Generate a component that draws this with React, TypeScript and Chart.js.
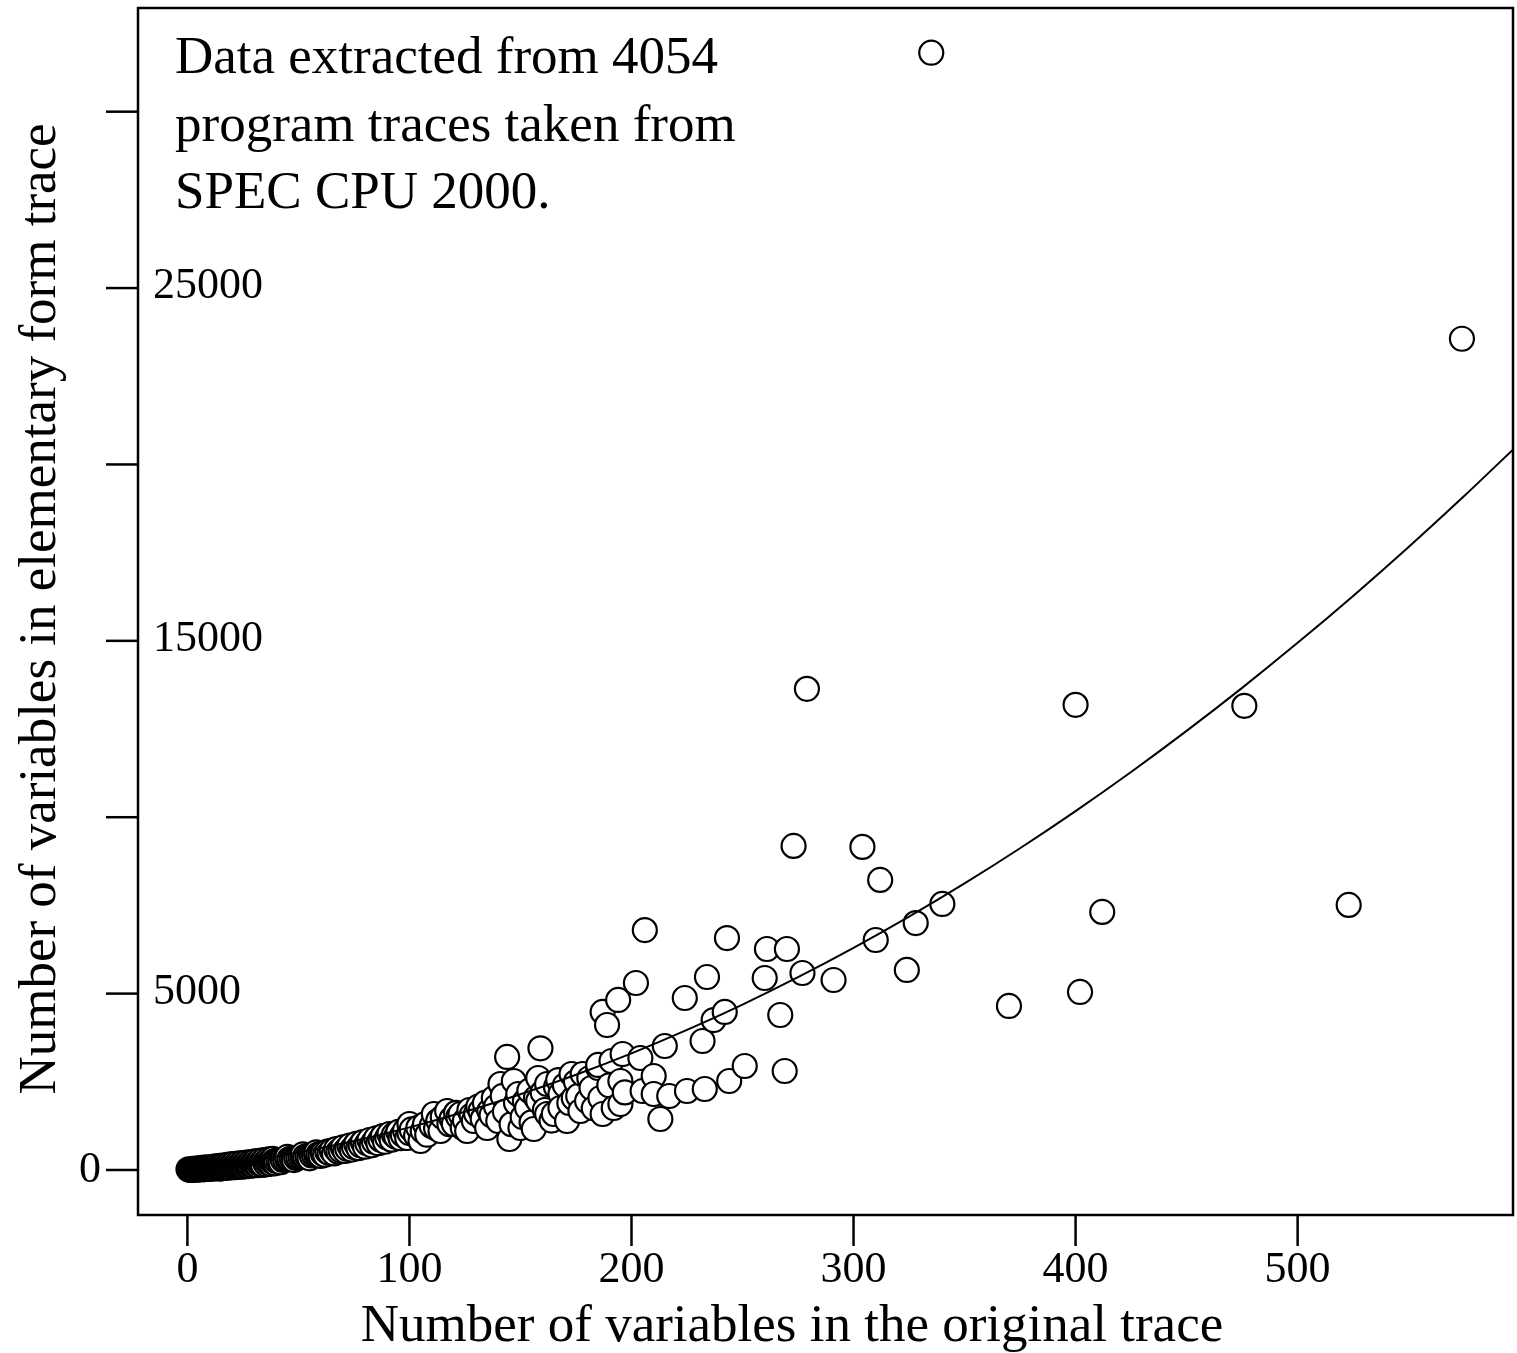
import React, { useEffect, useRef } from 'react';
import { Chart, registerables } from 'chart.js';

Chart.register(...registerables);

// ---- Data ----
const scatterX = [
  1, 2, 3, 4, 5, 6, 7, 8, 9, 10, 11, 12, 13, 14, 15, 16, 17, 18, 19, 20,
  21, 22, 23, 24, 25, 26, 27, 28, 29, 30, 31, 32, 33, 34, 35, 36, 37, 38, 39, 40,
  41, 42, 43, 44, 45, 46, 47, 48, 49, 50, 51, 52, 53, 54, 55, 56, 57, 58, 59, 60,
  0.5, 1.5, 2.5, 3.5, 4.5, 5.5, 6.5, 7.5, 8.5, 9.5, 10.5, 11.5, 12.5, 13.5, 14.5, 15.5, 16.5, 17.5, 18.5, 19.5,
  20.5, 21.5, 22.5, 23.5, 24.5, 25.5, 26.5, 27.5, 28.5, 29.5, 30.5, 31.5, 32.5, 33.5, 34.5, 35.5, 36.5, 37.5, 38.5, 39.5,
  8, 15, 20, 25, 30, 34, 38, 42, 45, 48, 52, 55, 58, 60,
  61, 62, 63, 64, 65, 66, 67, 68, 69, 70, 71, 72, 73, 74, 75, 76, 77, 78, 79, 80,
  81, 82, 83, 84, 85, 86, 87, 88, 89, 90, 91, 92, 93, 94, 95, 96, 97, 98, 99, 100,
  100, 101, 103, 104, 105, 106, 107, 108, 110, 111, 112, 113, 114, 115, 117, 118, 119, 120,
  121, 122, 123, 124, 125, 126, 127, 128, 129, 130, 131, 132, 133, 134, 135, 136, 137, 138,
  139, 140, 141, 142, 143, 144, 145, 146, 147, 148, 149, 150, 151, 152, 153, 154, 155, 156,
  157, 158, 158, 159, 160, 161, 162, 162, 164, 165, 166, 167, 168, 168, 170, 171, 172, 173,
  174, 175, 176, 177, 178, 180, 181, 182, 183, 185, 185, 186, 187, 187, 189, 190, 191, 192,
  194, 195, 195, 196, 197, 202, 204, 205, 206, 210, 210, 213, 215, 217, 224, 225, 232, 233,
  234, 237, 242, 243, 244, 251, 260, 261, 267, 269, 270, 273, 277, 279, 291, 304, 310, 312,
  324, 328, 335, 340, 370, 400, 402, 412, 476, 523, 574
];

const scatterY = [
  4, 8, 13, 17, 22, 26, 31, 36, 41, 46, 51, 57, 62, 68, 74, 79, 85, 91, 98, 104,
  110, 117, 124, 131, 138, 145, 152, 159, 166, 174, 182, 189, 197, 205, 214, 222, 230, 239, 247, 256,
  265, 274, 283, 292, 302, 311, 321, 330, 340, 350, 360, 370, 381, 391, 402, 412, 423, 434, 445, 456,
  20, 0, 35, 5, 45, 12, 60, 20, 70, 28, 85, 35, 100, 42, 115, 50, 130, 60, 150, 70,
  165, 80, 180, 90, 195, 100, 210, 110, 225, 125, 245, 135, 260, 150, 280, 160, 300, 175, 315, 190,
  70, 40, 150, 100, 230, 150, 300, 220, 370, 280, 440, 330, 500, 400,
  470, 430, 520, 480, 550, 470, 590, 520, 560, 640, 540, 600, 690, 580, 650, 740, 620, 700, 790, 660,
  760, 850, 700, 800, 900, 760, 860, 960, 800, 920, 1020, 860, 1000, 940, 1080, 900, 1000, 1120, 907, 1050,
  1304, 1150, 980, 1200, 822, 1105, 1300, 1000, 1250, 1587, 1180, 1400, 1105, 1500, 1672, 1300, 1450, 1304,
  1620, 1500, 1587, 1200, 1400, 1105, 1700, 1550, 1389, 1600, 1800, 1672, 1450, 1900, 1190, 1672, 1550, 2041,
  1800, 1389, 2438, 2100, 1650, 3204, 879, 1300, 2523, 1900, 2154, 1190, 1500, 1950, 1757, 2250, 1350, 1162,
  2050, 2608, 1956, 3450, 2200, 1700, 2438, 1587, 1400, 1587, 2350, 2550, 2154, 1757, 2400, 1389, 1900, 2721,
  2041, 2500, 2100, 1672, 2721, 1956, 2600, 2324, 1750, 2891, 2977, 2041, 1587, 4480, 4110, 2400, 3090, 1757,
  4820, 2523, 1871, 3288, 2200, 5300, 3175, 2239, 6800, 2664, 2154, 1446, 3515, 2098, 4875, 2239, 3656, 2296,
  5470, 4250, 4480, 6575, 2523, 2948, 5442, 6264, 4393, 2806, 6264, 9187, 5584, 13639, 5385, 9159, 6520, 8223,
  5670, 7000, 31672, 7542, 4650, 13185, 5047, 7316, 13157, 7514, 23563
];

const curveX = [0, 25, 50, 75, 100, 125, 150, 175, 200, 225, 250, 275, 300, 325, 350, 375, 400, 425, 450, 475, 500, 525, 550, 575, 600];
const curveY = [0, 219, 493, 822, 1208, 1649, 2146, 2698, 3306, 3970, 4690, 5465, 6295, 7181, 8123, 9121, 10174, 11282, 12447, 13667, 14944, 16274, 17661, 19104, 20603];

const xTicks = [0, 100, 200, 300, 400, 500];
const xTickLabels = ['0', '100', '200', '300', '400', '500'];
const yTicks = [0, 5000, 10000, 15000, 20000, 25000, 30000];
const yTickLabels = ['0', '5000', '', '15000', '', '25000', ''];

const xTitle = 'Number of variables in the original trace';
const yTitle = 'Number of variables in elementary form trace';
const noteLines = ['Data extracted from 4054', 'program traces taken from', 'SPEC CPU 2000.'];

const FONT = '"Liberation Serif", "Times New Roman", serif';

const axesPlugin = {
  id: 'rAxes',
  afterDraw(chart: any) {
    const ctx = chart.ctx as CanvasRenderingContext2D;
    const area = chart.chartArea;
    const xs = chart.scales.x;
    const ys = chart.scales.y;
    ctx.save();
    ctx.strokeStyle = '#000';
    ctx.fillStyle = '#000';
    ctx.lineWidth = 2.5;
    // box
    ctx.strokeRect(area.left, area.top, area.right - area.left, area.bottom - area.top);

    // x ticks
    ctx.font = `44px ${FONT}`;
    ctx.textAlign = 'center';
    ctx.textBaseline = 'alphabetic';
    xTicks.forEach((v, i) => {
      const px = xs.getPixelForValue(v);
      ctx.beginPath();
      ctx.moveTo(px, area.bottom);
      ctx.lineTo(px, area.bottom + 31);
      ctx.stroke();
      ctx.fillText(xTickLabels[i], px, area.bottom + 67);
    });

    // y ticks
    yTicks.forEach((v, i) => {
      const py = ys.getPixelForValue(v);
      ctx.beginPath();
      ctx.moveTo(area.left - 32, py);
      ctx.lineTo(area.left, py);
      ctx.stroke();
      const lab = yTickLabels[i];
      if (!lab) return;
      if (lab.length === 1) {
        ctx.textAlign = 'right';
        ctx.fillText(lab, area.left - 37, py + 12);
      } else {
        ctx.textAlign = 'left';
        ctx.fillText(lab, area.left + 15, py + 10);
      }
    });

    // axis titles
    ctx.font = `53px ${FONT}`;
    ctx.textAlign = 'center';
    ctx.fillText(xTitle, 792, area.bottom + 126);
    ctx.save();
    ctx.translate(55, 609);
    ctx.rotate(-Math.PI / 2);
    ctx.fillText(yTitle, 0, 0);
    ctx.restore();

    // note
    ctx.textAlign = 'left';
    noteLines.forEach((t, i) => {
      ctx.fillText(t, 175, 73 + i * 67.5);
    });
    ctx.restore();
  },
};

export default function App() {
  const ref = useRef<HTMLCanvasElement | null>(null);
  useEffect(() => {
    if (!ref.current) return;
    // drawn in order of increasing x so each circle leaves its left rim visible
    const points = scatterX
      .map((x, i) => ({ x, y: scatterY[i] }))
      .sort((a, b) => a.x - b.x);
    const curve = curveX.map((x, i) => ({ x, y: curveY[i] }));
    const chart = new Chart(ref.current, {
      type: 'scatter',
      data: {
        datasets: [
          {
            type: 'line',
            data: curve,
            borderColor: '#000',
            borderWidth: 2,
            pointRadius: 0,
            cubicInterpolationMode: 'monotone',
            fill: false,
            order: 0,
          } as any,
          {
            type: 'scatter',
            data: points,
            pointRadius: 12,
            pointHoverRadius: 12,
            borderWidth: 2.2,
            borderColor: '#000',
            backgroundColor: '#fff',
            order: 1,
          } as any,
        ],
      },
      options: {
        animation: false,
        responsive: false,
        devicePixelRatio: 1,
        events: [],
        layout: { autoPadding: false, padding: { left: 138, right: 4, top: 8, bottom: 138 } },
        plugins: { legend: { display: false }, tooltip: { enabled: false } },
        scales: {
          x: { type: 'linear', display: false, min: -22.25, max: 597 },
          y: { type: 'linear', display: false, min: -1276, max: 32939 },
        },
      },
      plugins: [axesPlugin],
    });
    return () => chart.destroy();
  }, []);

  return (
    <div style={{ position: 'absolute', left: 0, top: 0, width: 1517, height: 1353, background: '#fff' }}>
      <canvas ref={ref} width={1517} height={1353} style={{ width: 1517, height: 1353, display: 'block' }} />
    </div>
  );
}
